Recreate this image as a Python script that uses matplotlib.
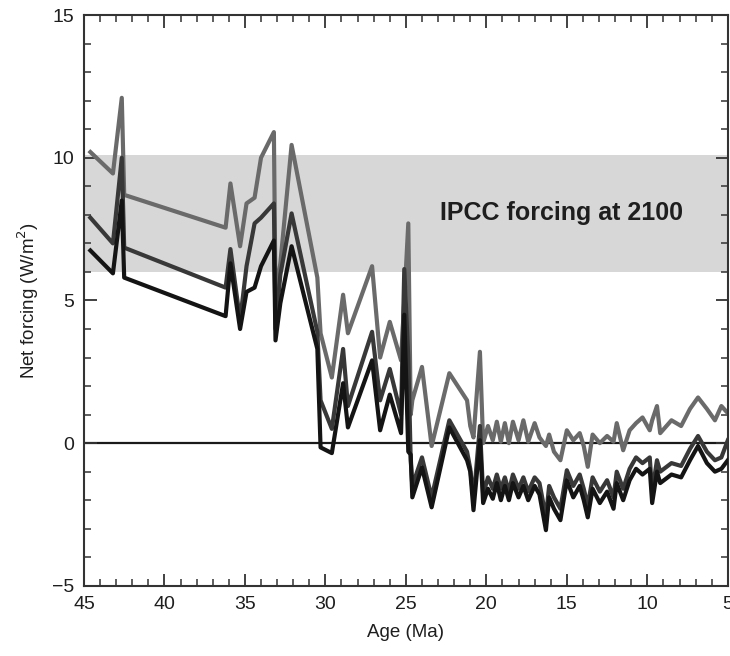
import matplotlib
matplotlib.use("Agg")
import matplotlib.pyplot as plt
from matplotlib.ticker import MultipleLocator

plt.rcParams['font.family'] = ['Liberation Sans', 'DejaVu Sans']

# age in Ma, shared by the three curves
ages = [44.6, 43.2, 42.65, 42.5, 36.2, 35.9, 35.3, 34.9, 34.4, 34.0,
        33.2, 33.1, 32.8, 32.1, 30.5, 30.3, 29.6, 28.9, 28.6, 27.1,
        26.6, 26.0, 25.3, 25.1, 24.85, 24.7, 24.6, 24.0, 23.4, 22.3,
        21.2, 21.0, 20.8, 20.4, 20.2, 19.9, 19.6, 19.35, 19.1, 18.85,
        18.6, 18.35, 18.0, 17.7, 17.4, 17.0, 16.7, 16.3, 16.1, 15.8,
        15.4, 15.0, 14.6, 14.2, 13.95, 13.7, 13.4, 12.95, 12.5, 12.1,
        11.9, 11.5, 11.1, 10.7, 10.3, 9.85, 9.7, 9.4, 9.2, 8.5,
        7.9, 7.35, 6.85, 6.3, 5.8, 5.4, 5.0]

# upper (grey) curve
upper = [10.2, 9.45, 12.1, 8.7, 7.55, 9.1, 6.9, 8.4, 8.6, 10.0,
         10.9, 5.2, 6.3, 10.45, 5.8, 3.85, 2.3, 5.2, 3.85, 6.2,
         3.0, 4.25, 2.9, 5.0, 7.7, 1.0, 1.5, 2.67, -0.1, 2.45,
         1.5, 0.6, 0.2, 3.2, 0.0, 0.6, 0.1, 0.75, 0.05, 0.7,
         0.0, 0.75, 0.1, 0.8, 0.05, 0.7, 0.2, -0.1, 0.3, -0.3,
         -0.6, 0.45, 0.1, 0.35, -0.1, -0.83, 0.3, 0.0, 0.25, 0.05,
         0.7, -0.25, 0.45, 0.7, 0.9, 0.45, 0.8, 1.3, 0.35, 0.8,
         0.6, 1.2, 1.6, 1.2, 0.8, 1.3, 1.05]

# middle curve
middle = [7.9, 7.0, 10.0, 6.85, 5.45, 6.8, 4.3, 6.2, 7.7, 7.9,
          8.4, 4.0, 5.9, 8.05, 3.9, 1.5, 0.5, 3.3, 1.3, 3.9,
          1.5, 2.6, 1.0, 6.1, 3.0, -0.6, -1.5, -0.5, -1.9, 0.8,
          -0.3, -0.9, -2.0, 0.6, -1.8, -1.2, -1.6, -1.1, -1.6, -1.2,
          -1.7, -1.1, -1.6, -1.2, -1.7, -1.2, -1.4, -2.6, -1.5, -1.9,
          -2.3, -0.95, -1.5, -1.1, -1.6, -2.2, -1.2, -1.7, -1.3, -1.9,
          -1.0, -1.6, -0.9, -0.5, -0.7, -0.5, -1.7, -0.6, -1.0, -0.7,
          -0.8, -0.2, 0.25, -0.3, -0.6, -0.5, 0.1]

# lower (black) curve
lower = [6.75, 5.95, 8.5, 5.8, 4.45, 6.3, 4.0, 5.3, 5.45, 6.2,
         7.1, 3.6, 4.9, 6.9, 3.3, -0.15, -0.35, 2.1, 0.55, 2.9,
         0.45, 1.7, 0.35, 4.5, -0.3, -0.4, -1.9, -0.85, -2.25, 0.55,
         -0.6, -1.0, -2.35, 0.1, -2.1, -1.6, -1.95, -1.4, -2.0, -1.5,
         -2.0, -1.4, -1.9, -1.5, -2.0, -1.5, -1.8, -3.05, -1.9, -2.3,
         -2.7, -1.3, -1.9, -1.5, -2.0, -2.6, -1.6, -2.1, -1.7, -2.3,
         -1.4, -2.0, -1.3, -0.9, -1.1, -0.9, -2.1, -1.0, -1.4, -1.1,
         -1.2, -0.6, -0.1, -0.7, -1.0, -0.9, -0.6]

band = (6.0, 10.1)

fig = plt.figure(figsize=(7.3, 6.56), dpi=100)
ax = fig.add_axes([0.115, 0.107, 0.882, 0.870])

ax.axhspan(band[0], band[1], color='#d7d7d7', lw=0, zorder=0)
ax.axhline(0, color='#1a1a1a', lw=1.6, zorder=1)

ax.plot(ages, upper, color='#6a6a6a', lw=3.0, zorder=2)
ax.plot(ages, middle, color='#383838', lw=3.0, zorder=3)
ax.plot(ages, lower, color='#141414', lw=3.0, zorder=4)

ax.text(22.9, 8.05, 'IPCC forcing at 2100', fontsize=18, fontweight='bold',
        color='#1e1e1e', ha='left', va='center')

ax.set_xlim(45, 5)
ax.set_ylim(-5, 15)
ax.xaxis.set_major_locator(MultipleLocator(5))
ax.xaxis.set_minor_locator(MultipleLocator(1))
ax.yaxis.set_major_locator(MultipleLocator(5))
ax.yaxis.set_minor_locator(MultipleLocator(1))
ax.tick_params(which='both', direction='in', top=True, right=True,
               color='#333333', labelsize=14, labelcolor='#1e1e1e')
ax.tick_params(which='major', length=9, width=1.3, pad=7)
ax.tick_params(which='minor', length=5, width=1.1)
for s in ax.spines.values():
    s.set_color('#333333')
    s.set_linewidth(1.5)

ax.set_xlabel('Age (Ma)', fontsize=13.5, color='#1e1e1e', labelpad=8)
ax.set_ylabel('Net forcing (W/m$^2$)', fontsize=13.5, color='#1e1e1e', labelpad=8)

fig.savefig('out.png', dpi=100)
